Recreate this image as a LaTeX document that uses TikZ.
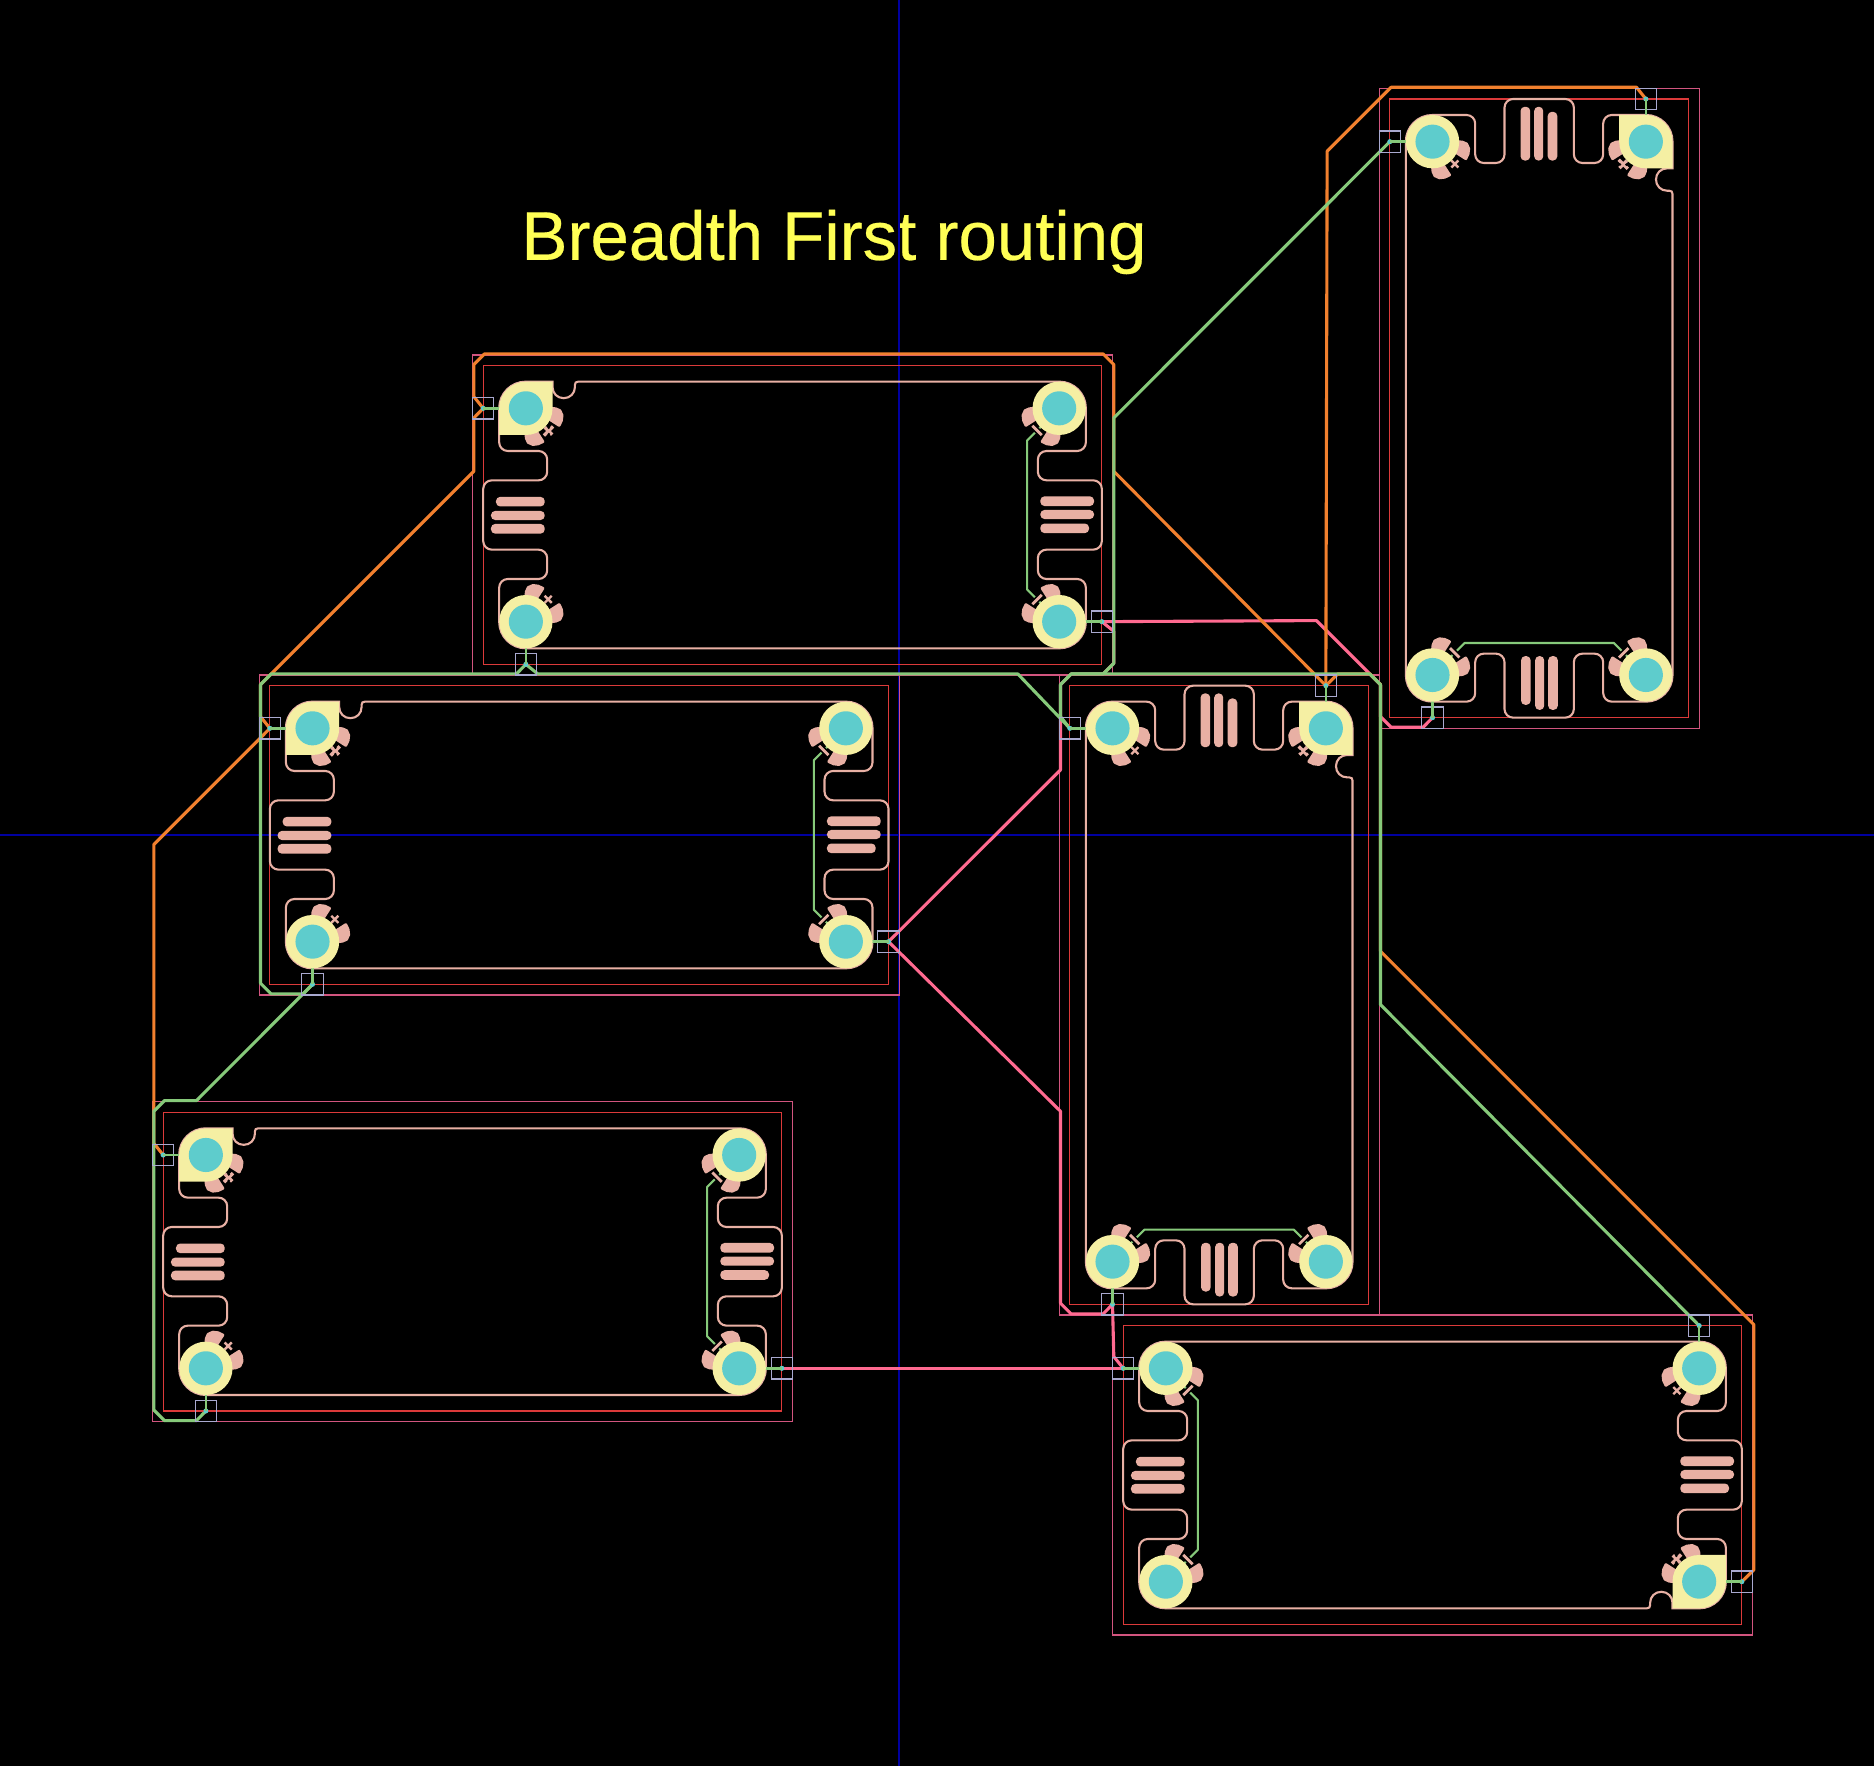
\documentclass[tikz,border=0pt]{standalone}
\usepackage{fontspec}
\setmainfont{Liberation Sans}
\newfontfamily\titlefont[FakeBold=0.35]{Liberation Sans}
\definecolor{cOut}{HTML}{D2557F}
\definecolor{cIn}{HTML}{DC3A3A}
\definecolor{cSalmon}{HTML}{E8B0A4}
\definecolor{cYel}{HTML}{F5EFA3}
\definecolor{cTeal}{HTML}{5ECCCC}
\definecolor{cBox}{HTML}{A9A9D0}
\definecolor{cBlue}{HTML}{0000A0}
\definecolor{cGreen}{HTML}{86C97A}
\definecolor{cOrange}{HTML}{F2802E}
\definecolor{cPink}{HTML}{FF6A90}
\definecolor{cTitle}{HTML}{FFFF55}
\tikzset{
  outerrect/.style={draw=cOut,line width=0.55pt},
  innerrect/.style={draw=cIn,line width=0.6pt},
  outl/.style={draw=cSalmon,line width=1.05pt},
  thintrace/.style={draw=cGreen,line width=1.05pt,line join=round},
  stub/.style={draw=cGreen,line width=1.2pt},
  bar/.style={fill=cSalmon,rounded corners=2.1pt},
  lobe/.style={fill=cSalmon,draw=cSalmon,line width=1.5pt,line join=round},
  mk/.style={draw=cSalmon,line width=1.2pt},
  halo/.style={draw=black,line width=3pt},
  portbox/.style={draw=cBox,line width=0.55pt},
  route/.style={line width=1.55pt,line join=round},
  rorange/.style={route,draw=cOrange},
  rgreen/.style={route,draw=cGreen},
  rpink/.style={route,draw=cPink}
}
% lobes around a pad, facing angle #1
\newcommand\lobes[1]{%
  \foreach \s in {1,-1}{%
    \filldraw[lobe] (#1+\s*21:2.3) -- (#1+\s*18:3.5) -- (#1+\s*26:3.52) -- (#1+\s*34:3.45)
       -- (#1+\s*41:3.2) -- (#1+\s*44:2.8) -- (#1+\s*45:2.3) -- cycle;
  }%
}
\newcommand\markX[1]{%
  \begin{scope}[shift={(#1:2.96)}]
    \draw[mk] (#1:.47) -- (#1+180:.47);
    \draw[mk] (#1+90:.47) -- (#1-90:.47);
  \end{scope}%
}
\newcommand\markDash[1]{%
  \draw[halo] (#1+12:3.0) -- (#1-12:3.0);
  \draw[mk,line width=1.4pt] (#1+12:3.0) -- (#1-12:3.0);%
}
\newcommand\markPin[1]{%
  \begin{scope}[shift={(#1:3.0)}]
    \draw[mk,line width=1.7pt] (#1:.5) -- (#1+180:.5);
    \draw[mk,line width=1.7pt] (#1+90:.6) -- (#1-90:.6);
    \fill[black] (#1+40:.3) circle (.13);
    \fill[black] (#1-130:.3) circle (.13);
  \end{scope}%
}
\newcommand\boardedge[1]{%
\begin{scope}[#1]
  \draw[outerrect] (0,0) rectangle (60,30);
\end{scope}%
}
\newcommand\board[1]{%
\begin{scope}[#1]
  \draw[innerrect] (1,1) rectangle (59,29);
  % port boxes
  \draw[portbox] (0,4) rectangle (2,6);
  \draw[portbox] (4,28) rectangle (6,30);
  \draw[portbox] (58,24) rectangle (60,26);
  % outline
  \draw[outl] (9.9,2.5) [rounded corners=13.3pt] -- (57.5,2.5) [rounded corners=4.3pt] -- (57.5,9) -- (53,9) -- (53,11.75)
     -- (59,11.75) -- (59,18.25) -- (53,18.25) -- (53,21) -- (57.5,21) [rounded corners=13.3pt] -- (57.5,27.5) -- (2.5,27.5)
     [rounded corners=4.3pt] -- (2.5,21) -- (7,21) -- (7,18.25) -- (1,18.25) -- (1,11.75) -- (7,11.75) -- (7,9) -- (2.5,9)
     [rounded corners=13.3pt] -- (2.5,2.5) [sharp corners] -- (7.5,2.5) -- (7.5,3)
     .. controls (7.5,3.6) and (7.95,4.05) .. (8.55,4.05)
     .. controls (9.15,4.05) and (9.6,3.6) .. (9.6,3) -- (9.6,2.8)
     .. controls (9.6,2.6) and (9.7,2.5) .. (9.9,2.5);
  % bars
  \fill[bar] (2.2,13.3) rectangle (6.77,14.2);
  \fill[bar] (1.73,14.62) rectangle (6.77,15.47);
  \fill[bar] (1.73,15.84) rectangle (6.77,16.75);
  \fill[bar] (53.23,13.25) rectangle (58.27,14.16);
  \fill[bar] (53.23,14.53) rectangle (58.27,15.38);
  \fill[bar] (53.23,15.8) rectangle (57.8,16.7);
  % internal trace and stubs
  \draw[thintrace] (55,5) -- (52,8) -- (52,22) -- (55,25);
  \fill[cTeal] (1,5) circle (.24);
  \fill[cTeal] (5,29) circle (.24);
  \fill[cTeal] (59,25) circle (.24);
  \draw[stub] (5,5) -- (1,5);
  \draw[stub] (5,25) -- (5,29);
  \draw[stub] (55,25) -- (59,25);
  % pads
  \begin{scope}[shift={(5,5)}]\lobes{45}\markPin{45}\end{scope}
  \begin{scope}[shift={(5,25)}]\lobes{-45}\markX{-45}\end{scope}
  \begin{scope}[shift={(55,5)}]\lobes{135}\markDash{135}\end{scope}
  \begin{scope}[shift={(55,25)}]\lobes{225}\markDash{225}\end{scope}
  \fill[cYel] (2.5,7.5) [rounded corners=13.3pt] -- (2.5,2.5) [sharp corners] -- (7.5,2.5) [rounded corners=13.3pt] -- (7.5,7.5) [sharp corners] -- cycle;
  \fill[cYel] (5,25) circle (2.5);
  \fill[cYel] (55,5) circle (2.5);
  \fill[cYel] (55,25) circle (2.5);
  \foreach \p in {(5,5),(5,25),(55,5),(55,25)} \fill[cTeal] \p circle (1.6);
\end{scope}%
}
\begin{document}
\begin{tikzpicture}[x=5.33333pt,y=-5.33333pt]
\fill[black] (-44.3,-33.28) rectangle (131.39,132.28);
\useasboundingbox (-44.3,-33.28) rectangle (131.39,132.28);
% title
\node[anchor=base west,inner sep=0pt,text=cTitle,font=\fontsize{34.5}{40}\selectfont\titlefont] (title) at (4.55,-8.92) {Breadth First routing};
% axes
\coordinate (axT) at (40,-33.28); \coordinate (axB) at (40,132.28);
\coordinate (axL) at (-44.3,45); \coordinate (axR) at (131.39,45);
\draw[cBlue,line width=0.7pt] (axT) -- (axB);
\draw[cBlue,line width=0.7pt] (axL) -- (axR);
% board edges
\boardedge{shift={(0,0)}}
\boardedge{shift={(-20,30)}}
\boardedge{shift={(-30,70)}}
\boardedge{shift={(85,30)},rotate=-90}
\boardedge{shift={(115,-25)},rotate=-90}
\boardedge{shift={(120,120)},rotate=180}
% ports
\coordinate (o1) at (1,5);      \coordinate (g1) at (5,29);    \coordinate (p1) at (59,25);
\coordinate (o2) at (-19,35);   \coordinate (g2) at (-15,59);  \coordinate (p2) at (39,55);
\coordinate (o3) at (-29,75);   \coordinate (g3) at (-25,99);  \coordinate (p3) at (29,95);
\coordinate (o4) at (80,31);    \coordinate (g4) at (56,35);   \coordinate (p4) at (60,89);
\coordinate (o5) at (110,-24);  \coordinate (g5) at (86,-20);  \coordinate (p5) at (90,34);
\coordinate (o6) at (119,115);  \coordinate (g6) at (115,91);  \coordinate (p6) at (61,95);
\begin{scope}[shift={(0.12,-0.1)}]
% pink net
\draw[rpink] (p1) -- (79,25) -- (85,31) -- (85,34) -- (86,35) -- (89,35) -- (p5);
\draw[rpink] (p1) -- (60,26) -- (60,29) -- (59,30) -- (56,30) -- (55,31) -- (55,39) -- (p2);
\draw[rpink] (p2) -- (55,71) -- (55,89) -- (56,90) -- (59,90) -- (p4);
\draw[rpink] (p4) -- (60,94) -- (p6);
\draw[rpink] (p3) -- (p6);
% orange net
\draw[rorange] (o1) -- (0,4) -- (0,1) -- (1,0) -- (59,0) -- (60,1) -- (60,11) -- (o4);
\draw[rorange] (o1) -- (0,6) -- (0,11) -- (-20,31) -- (-20,34) -- (o2);
\draw[rorange] (o2) -- (-20,36) -- (-30,46) -- (-30,74) -- (o3);
\draw[rorange] (o5) -- (109,-25) -- (86,-25) -- (80,-19) -- (o4);
\draw[rorange] (o4) -- (81,30) -- (84,30) -- (85,31) -- (85,56) -- (120,91) -- (120,114) -- (o6);
% green net
\draw[rgreen] (g1) -- (4,30) -- (-19,30) -- (-20,31) -- (-20,59) -- (-19,60) -- (-16,60) -- (g2);
\draw[rgreen] (g2) -- (-26,70) -- (-29,70) -- (-30,71) -- (-30,99) -- (-29,100) -- (-26,100) -- (g3);
\draw[rgreen] (g1) -- (6,30) -- (51,30) -- (g4);
\draw[rgreen] (g4) -- (55,34) -- (55,31) -- (56,30) -- (84,30) -- (85,31) -- (85,61) -- (g6);
\draw[rgreen] (g5) -- (60,6) -- (60,29) -- (59,30) -- (56,30);
\end{scope}
% boards
\board{shift={(0,0)}}
\board{shift={(-20,30)}}
\board{shift={(-30,70)}}
\board{shift={(85,30)},rotate=-90}
\board{shift={(115,-25)},rotate=-90}
\board{shift={(120,120)},rotate=180}
\end{tikzpicture}
\end{document}
